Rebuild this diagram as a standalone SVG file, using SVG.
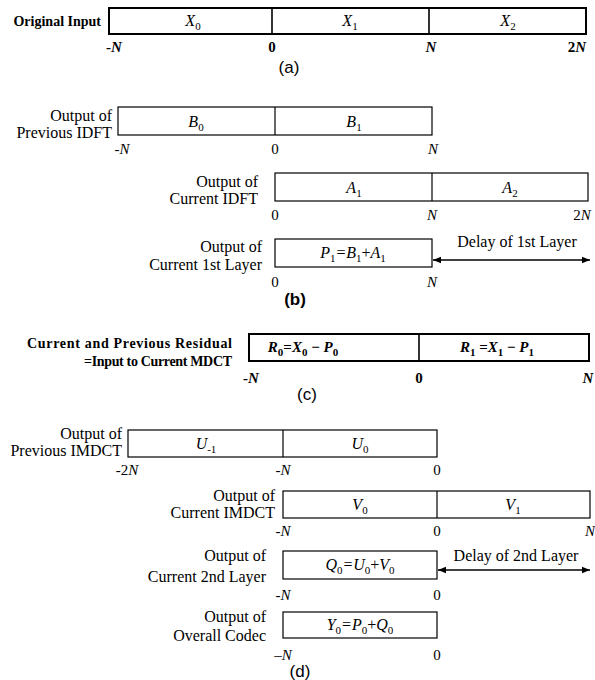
<svg xmlns="http://www.w3.org/2000/svg" width="595" height="680" viewBox="0 0 595 680">
<style>
.bx{fill:#fff;stroke:#000;stroke-width:1.2}
.bxb{fill:#fff;stroke:#000;stroke-width:2}
.dv{stroke:#000;stroke-width:1.2}
.dvb{stroke:#000;stroke-width:1.6}
.lb{font-family:"Liberation Serif",serif;font-size:16px;fill:#000;text-anchor:end}
.lbb{font-family:"Liberation Serif",serif;font-size:14px;font-weight:bold;fill:#000;text-anchor:end}
.ax{font-family:"Liberation Serif",serif;font-size:15px;fill:#000;text-anchor:middle}
.axb{font-family:"Liberation Serif",serif;font-size:15px;font-weight:bold;fill:#000;text-anchor:middle}
.v{font-family:"Liberation Serif",serif;font-size:16px;font-style:italic;fill:#000;text-anchor:middle}
.vb{font-family:"Liberation Serif",serif;font-size:15px;font-style:italic;font-weight:bold;fill:#000;text-anchor:middle}
.s{font-size:11px;font-style:normal}
.cap{font-family:"Liberation Sans",sans-serif;font-size:17px;fill:#000;text-anchor:middle}
.dl{font-family:"Liberation Serif",serif;font-size:16px;fill:#000;text-anchor:middle}
.ar{stroke:#000;stroke-width:1.3;fill:none;marker-start:url(#ah);marker-end:url(#ah)}
</style>
<defs>
<marker id="ah" viewBox="0 0 10 10" refX="10" refY="5" markerWidth="8" markerHeight="8" orient="auto-start-reverse" markerUnits="userSpaceOnUse">
<path d="M0,1 L10,5 L0,9 Z" fill="#000"/>
</marker>
</defs>

<!-- (a) -->
<g id="original-input">
<rect class="bxb" x="109" y="8" width="477" height="26"/>
<line class="dvb" x1="272" y1="8" x2="272" y2="34"/>
<line class="dvb" x1="429" y1="8" x2="429" y2="34"/>
<text class="lbb" x="101" y="26">Original Input</text>
<text class="v" x="193" y="26">X<tspan class="s" dy="4">0</tspan></text>
<text class="v" x="350" y="26">X<tspan class="s" dy="4">1</tspan></text>
<text class="v" x="508" y="26">X<tspan class="s" dy="4">2</tspan></text>
<text class="axb" x="114" y="52">-<tspan font-style="italic">N</tspan></text>
<text class="axb" x="272" y="52">0</text>
<text class="axb" x="431" y="52" font-style="italic">N</text>
<text class="axb" x="577" y="52">2<tspan font-style="italic">N</tspan></text>
</g>
<text class="cap" x="289" y="73">(a)</text>

<!-- (b) -->
<g id="previous-idft">
<rect class="bx" x="118" y="107" width="314" height="28"/>
<line class="dv" x1="275" y1="107" x2="275" y2="135"/>
<text class="lb" x="112" y="121">Output of</text>
<text class="lb" x="112" y="138">Previous IDFT</text>
<text class="v" x="196" y="127">B<tspan class="s" dy="4">0</tspan></text>
<text class="v" x="354" y="127">B<tspan class="s" dy="4">1</tspan></text>
<text class="ax" x="122" y="154">-<tspan font-style="italic">N</tspan></text>
<text class="ax" x="275" y="154">0</text>
<text class="ax" x="433" y="154" font-style="italic">N</text>
</g>
<g id="current-idft">
<rect class="bx" x="275" y="173" width="313" height="28"/>
<line class="dv" x1="432" y1="173" x2="432" y2="201"/>
<text class="lb" x="258" y="187">Output of</text>
<text class="lb" x="258" y="204">Current IDFT</text>
<text class="v" x="354" y="193">A<tspan class="s" dy="4">1</tspan></text>
<text class="v" x="510" y="193">A<tspan class="s" dy="4">2</tspan></text>
<text class="ax" x="275" y="220">0</text>
<text class="ax" x="432" y="220" font-style="italic">N</text>
<text class="ax" x="582" y="220">2<tspan font-style="italic">N</tspan></text>
</g>
<g id="current-1st-layer">
<rect class="bx" x="275" y="239" width="157" height="28"/>
<text class="lb" x="262" y="252">Output of</text>
<text class="lb" x="262" y="270">Current 1st Layer</text>
<text class="v" x="353" y="258">P<tspan class="s" dy="4">1</tspan><tspan dy="-4">=B</tspan><tspan class="s" dy="4">1</tspan><tspan font-style="normal" dy="-4">+</tspan><tspan dy="0">A</tspan><tspan class="s" dy="4">1</tspan></text>
<text class="ax" x="275" y="287">0</text>
<text class="ax" x="432" y="287" font-style="italic">N</text>
<text class="dl" x="517" y="247">Delay of 1st Layer</text>
</g>
<text class="cap" x="295" y="305" font-weight="bold">(b)</text>

<!-- (c) -->
<g id="residual">
<rect class="bxb" x="249" y="334" width="340" height="27"/>
<line class="dvb" x1="419" y1="334" x2="419" y2="361"/>
<text class="lbb" x="232" y="348" textLength="205" lengthAdjust="spacing">Current and Previous Residual</text>
<text class="lbb" x="232" y="366" textLength="148" lengthAdjust="spacing">=Input to Current MDCT</text>
<text class="vb" x="303" y="352">R<tspan class="s" dy="4">0</tspan><tspan font-style="normal" dy="-4">=</tspan>X<tspan class="s" dy="4">0</tspan><tspan font-style="normal" dy="-4"> − </tspan>P<tspan class="s" dy="4">0</tspan></text>
<text class="vb" x="497" y="352">R<tspan class="s" dy="4">1</tspan><tspan font-style="normal" dy="-4"> =</tspan>X<tspan class="s" dy="4">1</tspan><tspan font-style="normal" dy="-4"> − </tspan>P<tspan class="s" dy="4">1</tspan></text>
<text class="axb" x="251" y="383">-<tspan font-style="italic">N</tspan></text>
<text class="axb" x="419" y="383">0</text>
<text class="axb" x="588" y="383" font-style="italic">N</text>
</g>
<text class="cap" x="307" y="400">(c)</text>

<!-- (d) -->
<g id="previous-imdct">
<rect class="bx" x="128" y="430" width="309" height="27"/>
<line class="dv" x1="283" y1="430" x2="283" y2="457"/>
<text class="lb" x="122" y="439">Output of</text>
<text class="lb" x="122" y="456">Previous IMDCT</text>
<text class="v" x="206" y="449">U<tspan class="s" dy="4">-1</tspan></text>
<text class="v" x="360" y="449">U<tspan class="s" dy="4">0</tspan></text>
<text class="ax" x="127" y="475">-2<tspan font-style="italic">N</tspan></text>
<text class="ax" x="283" y="475">-<tspan font-style="italic">N</tspan></text>
<text class="ax" x="437" y="475">0</text>
</g>
<g id="current-imdct">
<rect class="bx" x="283" y="491" width="307" height="27"/>
<line class="dv" x1="437" y1="491" x2="437" y2="518"/>
<text class="lb" x="275" y="501">Output of</text>
<text class="lb" x="275" y="518">Current  IMDCT</text>
<text class="v" x="360" y="510">V<tspan class="s" dy="4">0</tspan></text>
<text class="v" x="513" y="510">V<tspan class="s" dy="4">1</tspan></text>
<text class="ax" x="283" y="536">-<tspan font-style="italic">N</tspan></text>
<text class="ax" x="437" y="536">0</text>
<text class="ax" x="590" y="536" font-style="italic">N</text>
</g>
<g id="current-2nd-layer">
<rect class="bx" x="283" y="551" width="154" height="28"/>
<text class="lb" x="266" y="561">Output of</text>
<text class="lb" x="266" y="582">Current 2nd Layer</text>
<text class="v" x="360" y="570">Q<tspan class="s" dy="4">0</tspan><tspan dy="-4">=U</tspan><tspan class="s" dy="4">0</tspan><tspan font-style="normal" dy="-4">+</tspan>V<tspan class="s" dy="4">0</tspan></text>
<text class="ax" x="283" y="600">-<tspan font-style="italic">N</tspan></text>
<text class="ax" x="437" y="600">0</text>
<text class="dl" x="516" y="561">Delay of 2nd Layer</text>
</g>
<g id="overall-codec">
<rect class="bx" x="283" y="612" width="154" height="26"/>
<text class="lb" x="266" y="622">Output of</text>
<text class="lb" x="266" y="641">Overall Codec</text>
<text class="v" x="360" y="630">Y<tspan class="s" dy="4">0</tspan><tspan dy="-4">=P</tspan><tspan class="s" dy="4">0</tspan><tspan font-style="normal" dy="-4">+</tspan>Q<tspan class="s" dy="4">0</tspan></text>
<text class="ax" x="283" y="660">–<tspan font-style="italic">N</tspan></text>
<text class="ax" x="437" y="660">0</text>
</g>
<text class="cap" x="300" y="677">(d)</text>

<g id="connectors">
<line class="ar" x1="433" y1="260" x2="590" y2="260"/>
<line class="ar" x1="438" y1="570" x2="590" y2="570"/>
</g>
</svg>
